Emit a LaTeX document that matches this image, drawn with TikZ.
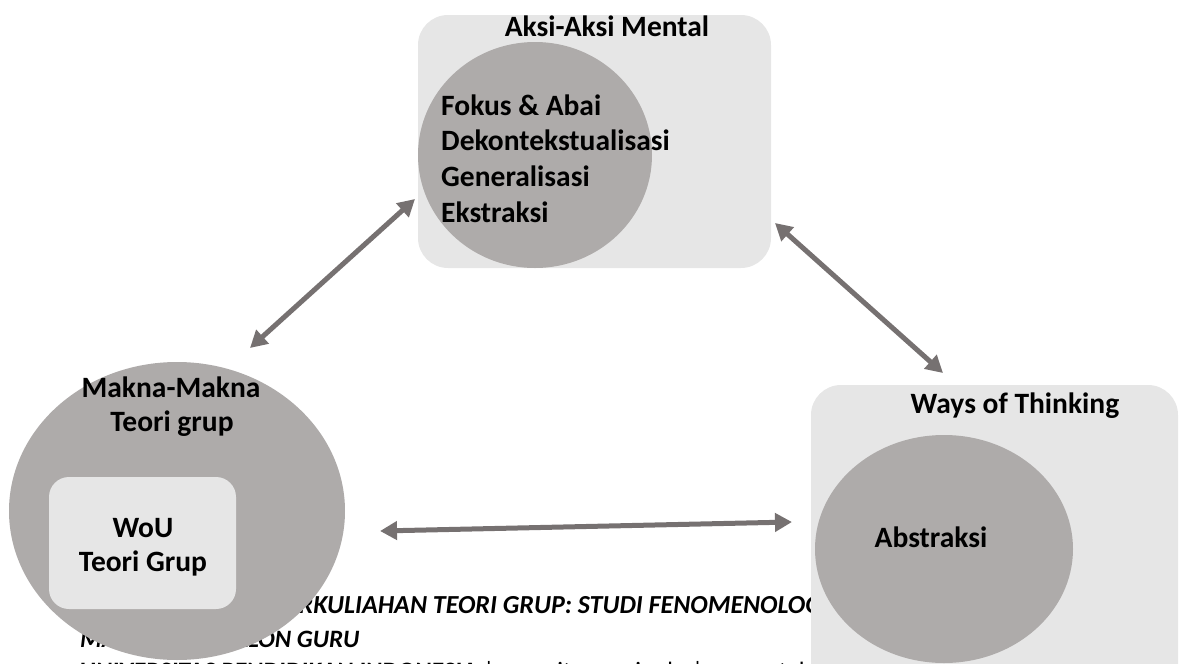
\documentclass[tikz,border=0pt]{standalone}
\usepackage{fontspec}
\setmainfont{Carlito}
\usetikzlibrary{arrows.meta,shapes.geometric}
\definecolor{boxgray}{HTML}{E6E6E6}
\definecolor{circgray}{HTML}{AEABAA}
\definecolor{arrgray}{HTML}{767171}
\begin{document}
\begin{tikzpicture}[x=1pt,y=-1pt,
  lbl/.style={font=\fontsize{29.5}{35}\selectfont\bfseries, inner sep=0pt},
  foot/.style={font=\fontsize{25}{30}\selectfont\bfseries\itshape, inner sep=0pt, anchor=base west},
  lightbox/.style={draw=none, fill=boxgray, rounded corners=30pt, rectangle, inner sep=0pt},
  disc/.style={draw=none, fill=circgray, ellipse, inner sep=0pt},
  link/.style={draw=arrgray, line width=5pt, {Triangle[length=17pt,width=18pt]}-{Triangle[length=17pt,width=18pt]}}
]
\useasboundingbox (0,0) rectangle (1179,664);
\clip (0,0) rectangle (1179,664);
% footer text (behind the shapes)
\node[foot, font=\fontsize{26}{30}\selectfont\bfseries\itshape] (f1) at (272,613) {PERKULIAHAN TEORI GRUP: STUDI FENOMENOLOGI};
\node[foot] (f2) at (80,647) {MAHASISWA CALON GURU};
\node[foot, font=\fontsize{25}{30}\selectfont\bfseries\upshape] (f3) at (80,679) {UNIVERSITAS PENDIDIKAN INDONESIA\mdseries{} | repository.upi.edu | perpustakaan.upi.edu};
% shapes
\node[lightbox, minimum width=353pt, minimum height=253pt] (mentalbox) at (594.5,141.5) {};
\node[disc, minimum width=234pt, minimum height=226pt] (mentaldisc) at (535,155) {};
\node[disc, minimum width=336pt, minimum height=298pt] (maknadisc) at (177,511) {};
\node[lightbox, rounded corners=20pt, minimum width=187pt, minimum height=132pt] (woubox) at (142.5,543) {};
\node[lightbox, minimum width=367pt, minimum height=345pt] (waysbox) at (994.5,557.5) {};
\node[disc, minimum width=258pt, minimum height=228pt] (waysdisc) at (944,549) {};
% labels
\node[lbl, anchor=base] (mentaltitle) at (607,36) {Aksi-Aksi Mental};
\node[lbl, anchor=base west] (fokus) at (441,115) {Fokus \& Abai};
\node[lbl, anchor=base west] (dekon) at (441,150) {Dekontekstualisasi};
\node[lbl, anchor=base west] (gener) at (441,186) {Generalisasi};
\node[lbl, anchor=base west] (ekstr) at (441,222) {Ekstraksi};
\node[lbl, anchor=base] (makna1) at (171,397) {Makna-Makna};
\node[lbl, anchor=base] (makna2) at (172,431) {Teori grup};
\node[lbl, anchor=base] (wou1) at (143,537) {WoU};
\node[lbl, anchor=base] (wou2) at (143,571) {Teori Grup};
\node[lbl, anchor=base] (waystitle) at (1015,413) {Ways of Thinking};
\node[lbl, anchor=base] (abstr) at (931,547) {Abstraksi};
% connectors
\coordinate (l1) at (250,348);
\coordinate (t1) at (415,199);
\coordinate (t2) at (775,223);
\coordinate (r2) at (943,373);
\coordinate (l3) at (380,531);
\coordinate (r3) at (792,522);
\draw[link] (l1) -- (t1);
\draw[link] (t2) -- (r2);
\draw[link] (l3) -- (r3);
\end{tikzpicture}
\end{document}
